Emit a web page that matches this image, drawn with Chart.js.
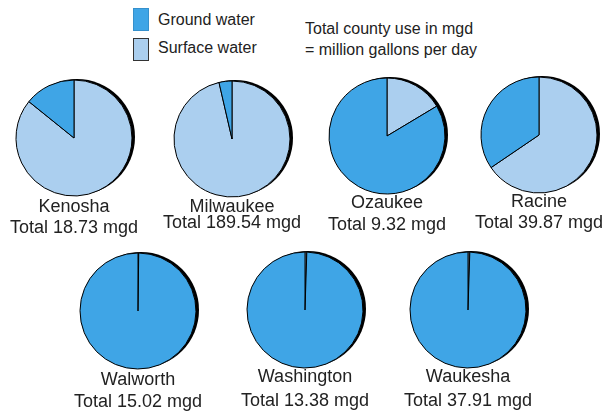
<!DOCTYPE html>
<html>
<head>
<meta charset="utf-8">
<script src="https://cdn.jsdelivr.net/npm/chart.js@4"></script>
<style>
  body { margin: 0; background: #fff; font-family: "Liberation Sans", Arial, sans-serif; color: #222; }
  #wrap { position: relative; width: 602px; height: 413px; overflow: hidden; }
  .pie { position: absolute; width: 130px; height: 130px; }
  .lbl { position: absolute; width: 200px; text-align: center; font-size: 18px; line-height: 21px; white-space: nowrap; }
  .box { position: absolute; left: 133px; width: 14px; height: 21px; }
  .legtxt { position: absolute; left: 158px; font-size: 16px; line-height: 18px; }
  .note { position: absolute; left: 305px; top: 18px; font-size: 16px; line-height: 21px; }
</style>
</head>
<body>
<div id="wrap">
  <div class="box" style="top:8px;background:#3fa5e6;border:1px solid #3590cc;"></div>
  <div class="legtxt" style="top:11px;">Ground water</div>
  <div class="box" style="top:38px;background:#abcfef;border:1px solid #333;"></div>
  <div class="legtxt" style="top:39px;">Surface water</div>
  <div class="note">Total county use in mgd<br>= million gallons per day</div>
</div>
<script>
// ==================== WATER USE PIES ====================
const GROUND_COLOR = '#3fa5e6';
const SURFACE_COLOR = '#abcfef';

const counties = ['Kenosha', 'Milwaukee', 'Ozaukee', 'Racine', 'Walworth', 'Washington', 'Waukesha'];
const totals = ['18.73', '189.54', '9.32', '39.87', '15.02', '13.38', '37.91'];
// percent of total use
const surfacePct = [85.8, 96.4, 16.4, 65.5, 0.2, 0.5, 0.5];
const groundPct = [14.2, 3.6, 83.6, 34.5, 99.8, 99.5, 99.5];

// pie centres and label rows in the page
const centers = [[74, 138], [232, 139], [387, 136], [539, 135], [138, 311], [305, 310], [468, 310]];
const nameY = [207, 207, 203, 202, 380, 377, 377];
const totalY = [228, 223, 225, 223, 402, 401, 401];

// black offset disc behind each pie
const shadowPlugin = {
  id: 'pieShadow',
  beforeDatasetsDraw(chart) {
    const arc = chart.getDatasetMeta(0).data[0];
    if (!arc) return;
    const ctx = chart.ctx;
    ctx.save();
    ctx.beginPath();
    ctx.arc(arc.x + 3, arc.y - 1, arc.outerRadius, 0, Math.PI * 2);
    ctx.fillStyle = '#000';
    ctx.fill();
    ctx.restore();
  }
};

const wrap = document.getElementById('wrap');

counties.forEach((name, i) => {
  const [cx, cy] = centers[i];
  const canvas = document.createElement('canvas');
  canvas.className = 'pie';
  canvas.width = 130;
  canvas.height = 130;
  canvas.style.left = (cx - 65) + 'px';
  canvas.style.top = (cy - 65) + 'px';
  wrap.appendChild(canvas);

  const n = document.createElement('div');
  n.className = 'lbl';
  n.style.left = (cx - 100) + 'px';
  n.style.top = (nameY[i] - 11) + 'px';
  n.textContent = name;
  wrap.appendChild(n);

  const t = document.createElement('div');
  t.className = 'lbl';
  t.style.left = (cx - 100) + 'px';
  t.style.top = (totalY[i] - 11) + 'px';
  t.textContent = 'Total ' + totals[i] + ' mgd';
  wrap.appendChild(t);

  new Chart(canvas, {
    type: 'pie',
    data: {
      labels: ['Surface water', 'Ground water'],
      datasets: [{
        data: [surfacePct[i], groundPct[i]],
        backgroundColor: [SURFACE_COLOR, GROUND_COLOR],
        borderColor: '#000',
        borderWidth: 1
      }]
    },
    options: {
      responsive: false,
      animation: false,
      events: [],
      radius: 58,
      layout: { padding: 0 },
      plugins: {
        legend: { display: false },
        tooltip: { enabled: false }
      }
    },
    plugins: [shadowPlugin]
  });
});
</script>
</body>
</html>
